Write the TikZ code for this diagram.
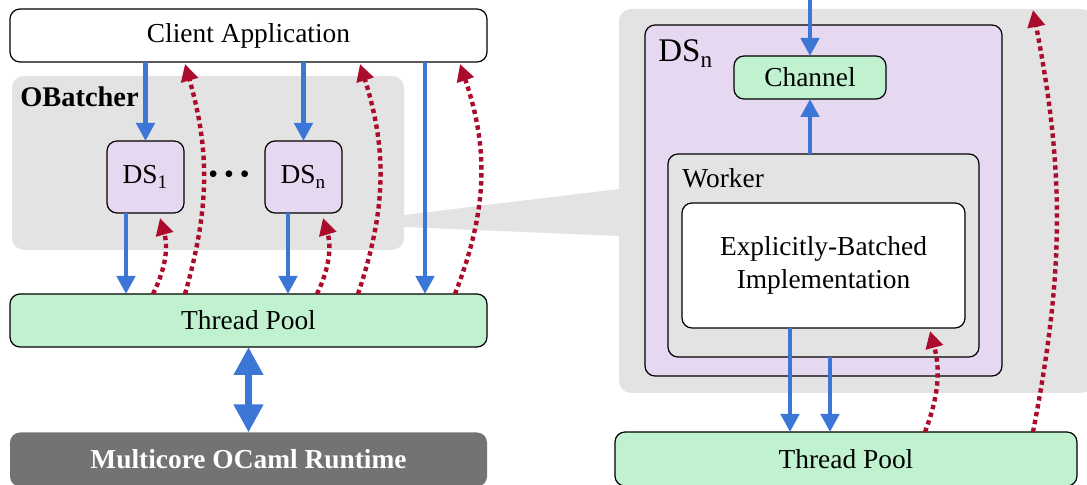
\documentclass[tikz,border=0pt]{standalone}
\usepackage{fontspec}
\setmainfont{Liberation Serif}
\usetikzlibrary{arrows.meta, positioning, calc}
\definecolor{regiongray}{RGB}{227,227,227}
\definecolor{dslilac}{RGB}{229,216,240}
\definecolor{poolgreen}{RGB}{192,242,208}
\definecolor{runtimegray}{RGB}{115,115,115}
\definecolor{flowblue}{RGB}{60,118,214}
\definecolor{replyred}{RGB}{172,12,44}

\begin{document}
\begin{tikzpicture}[x={(0.5pt,0pt)}, y={(0pt,-0.5pt)},
  every node/.style={font=\fontsize{13.7}{16.5}\selectfont},
  box/.style={draw, line width=0.6pt, rounded corners=5pt, inner sep=0pt, outer sep=0pt},
  pool/.style={box, fill=poolgreen},
  dsbox/.style={box, fill=dslilac},
  region/.style={fill=regiongray, rounded corners=6pt, inner sep=0pt, outer sep=0pt},
  flow/.style={draw=flowblue, line width=2.3pt, -{Triangle[length=9pt,width=9pt]}},
  reply/.style={draw=replyred, line width=2.2pt, dash pattern=on 2.2pt off 1.8pt, -{Triangle[length=8.5pt,width=8.5pt]}}
]
  \useasboundingbox (0,0) rectangle (1087,485);

  % grey backgrounds and the zoom wedge
  \node[region, minimum width=196pt, minimum height=87pt] (obatcher) at (208,163) {};
  \node[region, minimum width=237pt, minimum height=192pt] (zoomregion) at (856,201) {};
  \fill[regiongray] (obatcher.east |- 0,215) -- (zoomregion.west |- 0,189)
    -- (zoomregion.west |- 0,236) -- (obatcher.east |- 0,227) -- cycle;
  \node[anchor=base west, inner sep=0pt, font=\fontsize{14.2}{17}\selectfont] (obatcherlabel) at (20,107) {\textbf{OBatcher}};

  % left stack
  \node[box, fill=white, minimum width=238.5pt, minimum height=26.5pt] (client) at (248.5,35.5) {Client Application};
  \node[dsbox, minimum width=38.5pt, minimum height=36pt] (ds1) at (145.5,177) {DS\textsubscript{1}};
  \node[dsbox, minimum width=38.5pt, minimum height=36pt] (dsn) at (303.5,177) {DS\textsubscript{n}};
  \node[inner sep=0pt, anchor=base, font=\fontsize{14}{14}\selectfont] (dots) at (229,184) {\textbullet\hspace{3pt}\textbullet\hspace{3pt}\textbullet};
  \node[pool, minimum width=238.5pt, minimum height=26.5pt] (poolL) at (248.5,320.5) {Thread Pool};
  \node[box, draw=none, fill=runtimegray, text=white, minimum width=238.5pt, minimum height=27pt] (runtime) at (248.5,459.5) {\textbf{Multicore OCaml Runtime}};

  % right: inside DS_n
  \node[dsbox, minimum width=178.5pt, minimum height=175.5pt] (dsbig) at (823.5,200.5) {};
  \node[anchor=base west, inner sep=0pt, font=\fontsize{16.5}{19}\selectfont] (dsbiglabel) at (658,62) {DS\textsubscript{n}};
  \node[pool, minimum width=76pt, minimum height=21.5pt] (channel) at (810,77.5) {Channel};
  \node[box, fill=regiongray, minimum width=155.5pt, minimum height=101.5pt] (worker) at (823.5,255.5) {};
  \node[anchor=base west, inner sep=0pt] (workerlabel) at (682,188) {Worker};
  \node[box, fill=white, align=center, minimum width=141.5pt, minimum height=62.5pt] (impl) at (823.5,265.5) {Explicitly-Batched\\Implementation};
  \node[pool, minimum width=231pt, minimum height=27pt] (poolR) at (846,459) {Thread Pool};
  \coordinate (feed) at (810,-2);
  \coordinate (back) at (1033,10);

  % requests (blue) and replies (red)
  \draw[flow] (ds1.north |- client.south) -- (ds1.north);
  \draw[flow] (dsn.north |- client.south) -- (dsn.north);
  \draw[flow] ($(ds1.south)+(-9.75pt,0)$) -- ($(ds1.south |- poolL.north)+(-9.75pt,0)$);
  \draw[flow] ($(dsn.south)+(-7.75pt,0)$) -- ($(dsn.south |- poolL.north)+(-7.75pt,0)$);
  \draw[flow] ($(dsn.north |- client.south)+(60.75pt,0)$) -- ($(dsn.south |- poolL.north)+(60.75pt,0)$);
  \draw[reply] ($(ds1.south |- poolL.north)+(3.75pt,0)$) to[bend right=21] ($(ds1.south)+(7.25pt,-2.5pt)$);
  \draw[reply] ($(ds1.south |- poolL.north)+(19.75pt,0)$) to[bend right=16] ($(ds1.north |- client.south)+(19.75pt,-1pt)$);
  \draw[reply] ($(dsn.south |- poolL.north)+(6.75pt,0)$) to[bend right=21] ($(dsn.south)+(9.75pt,-2.5pt)$);
  \draw[reply] ($(dsn.south |- poolL.north)+(27.25pt,0)$) to[bend right=18] ($(dsn.north |- client.south)+(28.25pt,-1pt)$);
  \draw[reply] ($(dsn.south |- poolL.north)+(75.75pt,0)$) to[bend right=20] ($(dsn.north |- client.south)+(78.25pt,-1pt)$);
  \draw[flowblue, line width=3.5pt, {Triangle[length=14pt,width=14pt]}-{Triangle[length=14pt,width=14pt]}] (poolL.south) -- (runtime.north);

  \draw[flow] (feed) -- (channel.north);
  \draw[flow] (channel.south |- worker.north) -- (channel.south);
  \draw[flow] ($(impl.south)+(-16.75pt,0)$) -- ($(impl.south |- poolR.north)+(-16.75pt,0)$);
  \draw[flow] ($(worker.south)+(3.25pt,0)$) -- ($(worker.south |- poolR.north)+(3.25pt,0)$);
  \draw[reply] ($(poolR.north)+(39.5pt,0)$) to[bend right=18] ($(impl.south)+(53.25pt,-1.5pt)$);
  \draw[reply] (back |- poolR.north) to[bend right=11] (back);
\end{tikzpicture}
\end{document}
